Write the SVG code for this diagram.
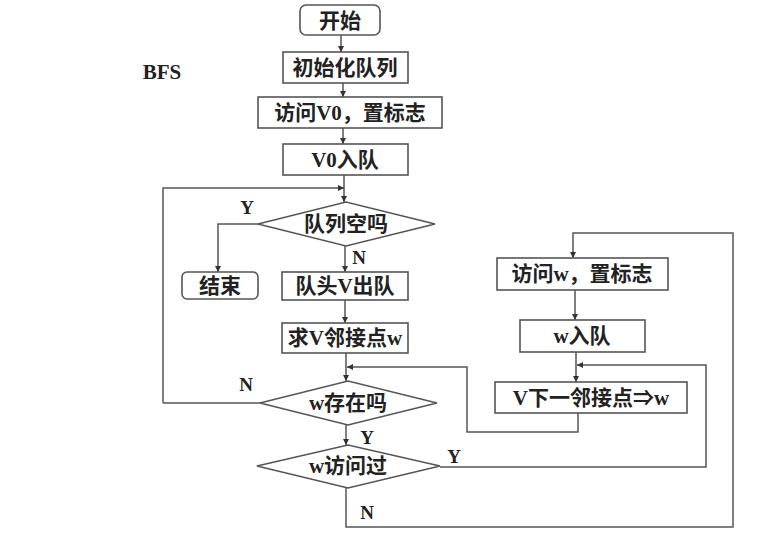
<svg xmlns="http://www.w3.org/2000/svg" width="782" height="537" viewBox="0 0 782 537">
<defs>
<marker id="ah" viewBox="0 0 10 10" refX="10" refY="5" markerWidth="6" markerHeight="6" orient="auto" markerUnits="userSpaceOnUse">
<path d="M0,0 L10,5 L0,10 z" fill="#333"/>
</marker>
<style>
.box{fill:#fff;stroke:#555;stroke-width:1.6}
.t{font-family:"Liberation Serif","Noto Sans CJK SC",serif;font-weight:bold;font-size:21px;fill:#222;text-anchor:middle}
.lbl{font-family:"Liberation Serif","Noto Sans CJK SC",serif;font-weight:bold;font-size:19px;fill:#222;text-anchor:middle}
.c{fill:none;stroke:#555;stroke-width:1.5}
</style>
</defs>
<rect width="782" height="537" fill="#fff"/>
<text class="lbl" x="162" y="79" style="font-size:21px">BFS</text>
<g id="connectors">
<path class="c" d="M341,35 V52" marker-end="url(#ah)"/>
<path class="c" d="M343,83 V97" marker-end="url(#ah)"/>
<path class="c" d="M343,128 V144" marker-end="url(#ah)"/>
<path class="c" d="M344,175 V202" marker-end="url(#ah)"/>
<path class="c" d="M163,403 H260"/>
<path class="c" d="M163,403 V188 H344" marker-end="url(#ah)"/>
<path class="c" d="M258,224 H218 V272" marker-end="url(#ah)"/>
<path class="c" d="M345,246 V272" marker-end="url(#ah)"/>
<path class="c" d="M345,300 V323" marker-end="url(#ah)"/>
<path class="c" d="M346,353 V381" marker-end="url(#ah)"/>
<path class="c" d="M578,413 V432 H467 V367 H347" marker-end="url(#ah)"/>
<path class="c" d="M346,425 V445" marker-end="url(#ah)"/>
<path class="c" d="M440,467 H706 V365 H577" marker-end="url(#ah)"/>
<path class="c" d="M346,488 V527 H733 V233 H573 V258" marker-end="url(#ah)"/>
<path class="c" d="M575,290 V320" marker-end="url(#ah)"/>
<path class="c" d="M576,352 V382" marker-end="url(#ah)"/>
</g>
<g id="start"><rect class="box" x="300" y="5" width="80" height="30" rx="6"/><text class="t" x="340" y="28">开始</text></g>
<g id="init"><rect class="box" x="283" y="52" width="125" height="31"/><text class="t" x="345" y="75">初始化队列</text></g>
<g id="visitV0"><rect class="box" x="258" y="97" width="184" height="31"/><text class="t" x="350" y="120">访问V0，置标志</text></g>
<g id="enqV0"><rect class="box" x="283" y="144" width="125" height="31"/><text class="t" x="345" y="167">V0入队</text></g>
<g id="empty"><polygon class="box" points="258,224 346,202 435,224 346,246"/><text class="t" x="346" y="231">队列空吗</text></g>
<g id="end"><rect class="box" x="182" y="272" width="76" height="27" rx="5"/><text class="t" x="220" y="293">结束</text></g>
<g id="deq"><rect class="box" x="282" y="272" width="126" height="28"/><text class="t" x="345" y="293">队头V出队</text></g>
<g id="adj"><rect class="box" x="282" y="323" width="126" height="30"/><text class="t" x="345" y="345">求V邻接点w</text></g>
<g id="exists"><polygon class="box" points="260,403 348,381 437,403 348,425"/><text class="t" x="348" y="410">w存在吗</text></g>
<g id="visited"><polygon class="box" points="257,466 348,445 440,466 348,488"/><text class="t" x="348" y="473">w访问过</text></g>
<g id="visitW"><rect class="box" x="497" y="258" width="171" height="32"/><text class="t" x="582" y="281">访问w，置标志</text></g>
<g id="enqW"><rect class="box" x="520" y="320" width="125" height="32"/><text class="t" x="582" y="343">w入队</text></g>
<g id="nextW"><rect class="box" x="495" y="382" width="192" height="31"/><text class="t" x="591" y="405">V下一邻接点⇒w</text></g>
<text class="lbl" x="247" y="214">Y</text>
<text class="lbl" x="359" y="264">N</text>
<text class="lbl" x="246" y="391">N</text>
<text class="lbl" x="367" y="444">Y</text>
<text class="lbl" x="454" y="463">Y</text>
<text class="lbl" x="367" y="519">N</text>
</svg>
